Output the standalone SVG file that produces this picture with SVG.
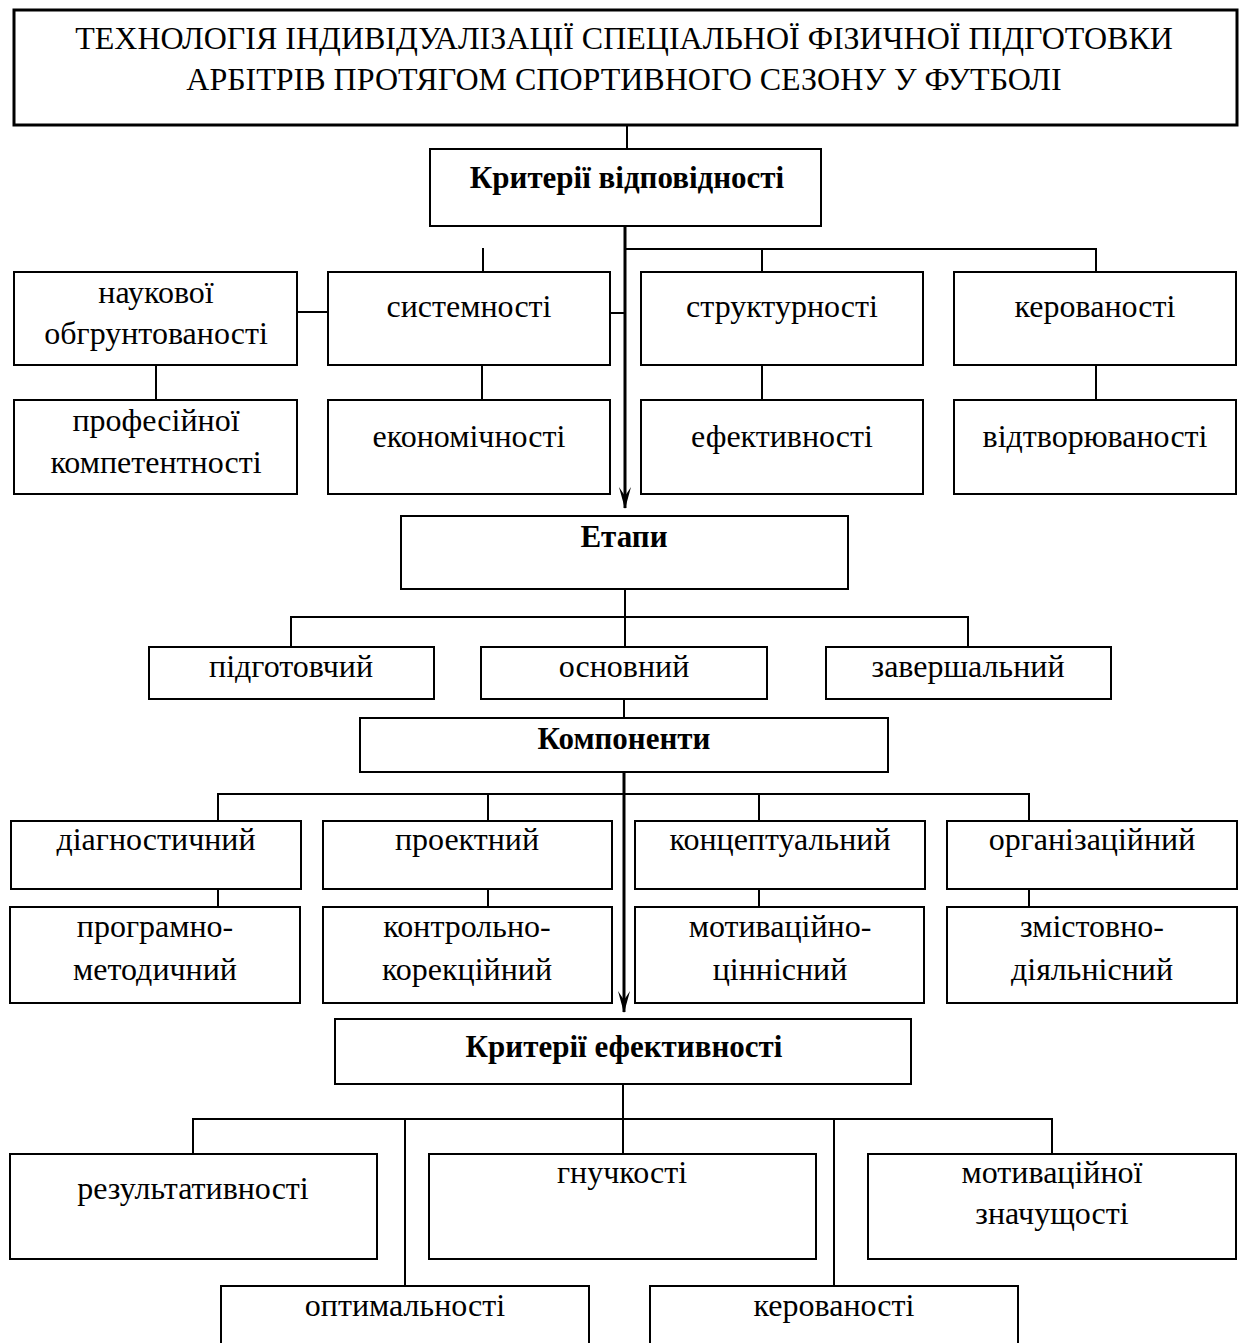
<svg xmlns="http://www.w3.org/2000/svg" width="1241" height="1343" viewBox="0 0 1241 1343">
<style>
.box{fill:#fff;stroke:#000;stroke-width:2}
.tb{fill:#fff;stroke:#000;stroke-width:3}
.t{font-family:"Liberation Serif","Times New Roman",serif;font-size:32px;text-anchor:middle;fill:#000}
.b{font-weight:bold;font-size:31px}
.ln{fill:none;stroke:#000;stroke-width:2}
.main{fill:none;stroke:#000;stroke-width:3}
</style>
<defs>
<marker id="arr" markerWidth="22" markerHeight="14" refX="21" refY="7" orient="auto" markerUnits="userSpaceOnUse" viewBox="0 0 22 14">
<path d="M22,7 L0,1 L9,7 L0,13 Z" fill="#000"/>
</marker>
</defs>
<rect width="1241" height="1343" fill="#fff"/>
<g id="connectors">
<line class="ln" x1="627" y1="125" x2="627" y2="150"/>
<line class="main" x1="625" y1="226" x2="625" y2="508" marker-end="url(#arr)"/>
<polyline class="ln" points="625,249 1096,249 1096,272"/>
<line class="ln" x1="762" y1="249" x2="762" y2="272"/>
<line class="ln" x1="483" y1="248" x2="483" y2="272"/>
<line class="ln" x1="297" y1="312" x2="328" y2="312"/>
<line class="ln" x1="610" y1="313" x2="625" y2="313"/>
<line class="ln" x1="156" y1="365" x2="156" y2="400"/>
<line class="ln" x1="482" y1="365" x2="482" y2="400"/>
<line class="ln" x1="762" y1="365" x2="762" y2="400"/>
<line class="ln" x1="1096" y1="365" x2="1096" y2="400"/>
<line class="ln" x1="625" y1="589" x2="625" y2="647"/>
<polyline class="ln" points="291,647 291,617 968,617 968,647"/>
<line class="ln" x1="624" y1="699" x2="624" y2="718"/>
<line class="main" x1="624" y1="772" x2="624" y2="1012" marker-end="url(#arr)"/>
<polyline class="ln" points="218,821 218,794 1029,794 1029,821"/>
<line class="ln" x1="488" y1="794" x2="488" y2="821"/>
<line class="ln" x1="759" y1="794" x2="759" y2="821"/>
<line class="ln" x1="218" y1="889" x2="218" y2="907"/>
<line class="ln" x1="488" y1="889" x2="488" y2="907"/>
<line class="ln" x1="759" y1="889" x2="759" y2="907"/>
<line class="ln" x1="1029" y1="889" x2="1029" y2="907"/>
<line class="ln" x1="623" y1="1080" x2="623" y2="1154"/>
<polyline class="ln" points="193,1154 193,1119 1052,1119 1052,1154"/>
<line class="ln" x1="405" y1="1118" x2="405" y2="1288"/>
<line class="ln" x1="834" y1="1119" x2="834" y2="1288"/>
</g>
<g id="title">
<rect class="tb" x="14" y="10" width="1223" height="115"/>
<text class="t" x="624" y="49">ТЕХНОЛОГІЯ ІНДИВІДУАЛІЗАЦІЇ СПЕЦІАЛЬНОЇ ФІЗИЧНОЇ ПІДГОТОВКИ</text>
<text class="t" x="624" y="90">АРБІТРІВ ПРОТЯГОМ СПОРТИВНОГО СЕЗОНУ У ФУТБОЛІ</text>
</g>
<g id="criteria-fit">
<rect class="box" x="430" y="149" width="391" height="77"/>
<text class="t b" x="627" y="188">Критерії відповідності</text>
</g>
<g id="n-scientific">
<rect class="box" x="14" y="272" width="283" height="93"/>
<text class="t" x="156" y="303">наукової</text>
<text class="t" x="156" y="344">обгрунтованості</text>
</g>
<g id="n-system">
<rect class="box" x="328" y="272" width="282" height="93"/>
<text class="t" x="469" y="317">системності</text>
</g>
<g id="n-structure">
<rect class="box" x="641" y="272" width="282" height="93"/>
<text class="t" x="782" y="317">структурності</text>
</g>
<g id="n-control">
<rect class="box" x="954" y="272" width="282" height="93"/>
<text class="t" x="1095" y="317">керованості</text>
</g>
<g id="n-prof">
<rect class="box" x="14" y="400" width="283" height="94"/>
<text class="t" x="156" y="431">професійної</text>
<text class="t" x="156" y="473">компетентності</text>
</g>
<g id="n-econ">
<rect class="box" x="328" y="400" width="282" height="94"/>
<text class="t" x="469" y="447">економічності</text>
</g>
<g id="n-eff">
<rect class="box" x="641" y="400" width="282" height="94"/>
<text class="t" x="782" y="447">ефективності</text>
</g>
<g id="n-repro">
<rect class="box" x="954" y="400" width="282" height="94"/>
<text class="t" x="1095" y="447">відтворюваності</text>
</g>
<g id="stages">
<rect class="box" x="401" y="516" width="447" height="73"/>
<text class="t b" x="624" y="547">Етапи</text>
</g>
<g id="s-prep">
<rect class="box" x="149" y="647" width="285" height="52"/>
<text class="t" x="291" y="677">підготовчий</text>
</g>
<g id="s-main">
<rect class="box" x="481" y="647" width="286" height="52"/>
<text class="t" x="624" y="677">основний</text>
</g>
<g id="s-final">
<rect class="box" x="826" y="647" width="285" height="52"/>
<text class="t" x="968" y="677">завершальний</text>
</g>
<g id="components">
<rect class="box" x="360" y="718" width="528" height="54"/>
<text class="t b" x="624" y="749">Компоненти</text>
</g>
<g id="c-diag">
<rect class="box" x="11" y="821" width="290" height="68"/>
<text class="t" x="156" y="850">діагностичний</text>
</g>
<g id="c-proj">
<rect class="box" x="323" y="821" width="289" height="68"/>
<text class="t" x="467" y="850">проектний</text>
</g>
<g id="c-concept">
<rect class="box" x="635" y="821" width="290" height="68"/>
<text class="t" x="780" y="850">концептуальний</text>
</g>
<g id="c-org">
<rect class="box" x="947" y="821" width="290" height="68"/>
<text class="t" x="1092" y="850">організаційний</text>
</g>
<g id="c-prog">
<rect class="box" x="10" y="907" width="290" height="96"/>
<text class="t" x="155" y="937">програмно-</text>
<text class="t" x="155" y="980">методичний</text>
</g>
<g id="c-ctrl">
<rect class="box" x="323" y="907" width="289" height="96"/>
<text class="t" x="467" y="937">контрольно-</text>
<text class="t" x="467" y="980">корекційний</text>
</g>
<g id="c-motiv">
<rect class="box" x="635" y="907" width="289" height="96"/>
<text class="t" x="780" y="937">мотиваційно-</text>
<text class="t" x="780" y="980">ціннісний</text>
</g>
<g id="c-content">
<rect class="box" x="947" y="907" width="290" height="96"/>
<text class="t" x="1092" y="937">змістовно-</text>
<text class="t" x="1092" y="980">діяльнісний</text>
</g>
<g id="criteria-eff">
<rect class="box" x="335" y="1019" width="576" height="65"/>
<text class="t b" x="624" y="1057">Критерії ефективності</text>
</g>
<g id="e-result">
<rect class="box" x="10" y="1154" width="367" height="105"/>
<text class="t" x="193" y="1199">результативності</text>
</g>
<g id="e-flex">
<rect class="box" x="429" y="1154" width="387" height="105"/>
<text class="t" x="622" y="1183">гнучкості</text>
</g>
<g id="e-motiv">
<rect class="box" x="868" y="1154" width="368" height="105"/>
<text class="t" x="1052" y="1183">мотиваційної</text>
<text class="t" x="1052" y="1224">значущості</text>
</g>
<g id="e-opt">
<rect class="box" x="221" y="1286" width="368" height="70"/>
<text class="t" x="405" y="1316">оптимальності</text>
</g>
<g id="e-ctrl">
<rect class="box" x="650" y="1286" width="368" height="70"/>
<text class="t" x="834" y="1316">керованості</text>
</g>
</svg>
